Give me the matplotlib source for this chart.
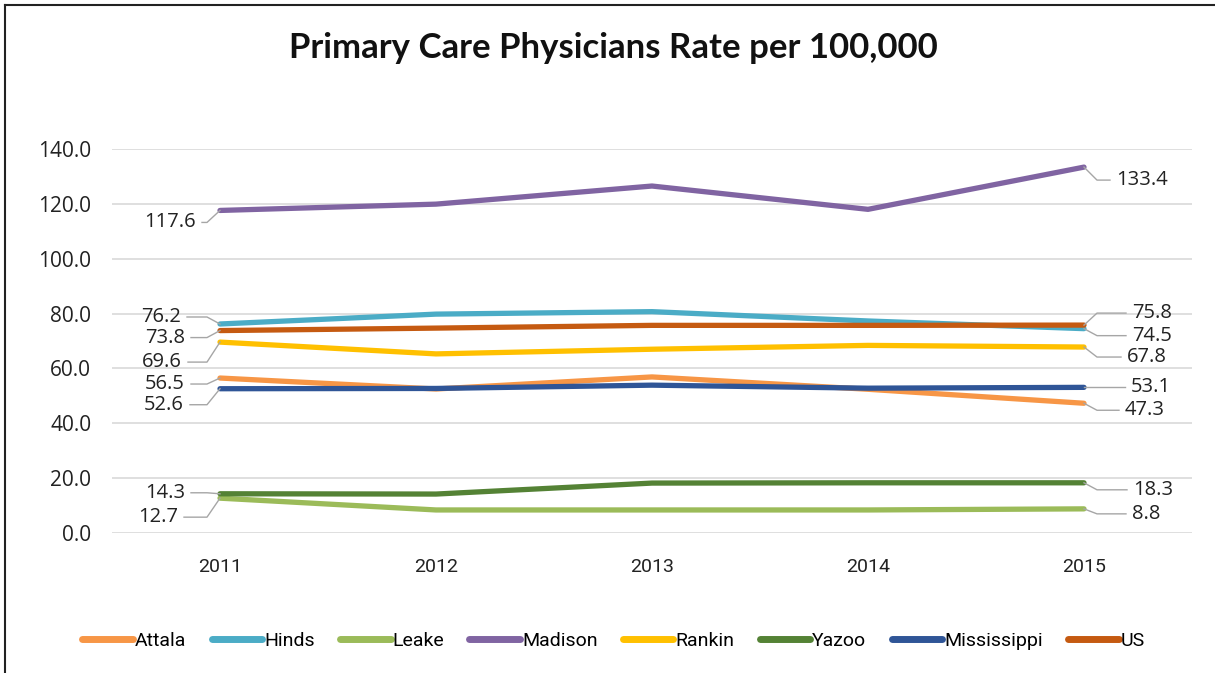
import matplotlib.pyplot as plt
from matplotlib.lines import Line2D
from matplotlib.transforms import IdentityTransform

# ---- Data ---------------------------------------------------------------
YEARS = ["2011", "2012", "2013", "2014", "2015"]
SERIES = ["Attala", "Hinds", "Leake", "Madison", "Rankin", "Yazoo", "Mississippi", "US"]

attala = [56.5, 52.5, 56.9, 52.4, 47.3]
hinds = [76.2, 79.8, 80.7, 77.3, 74.5]
leake = [12.7, 8.4, 8.4, 8.4, 8.8]
madison = [117.6, 119.9, 126.5, 118.0, 133.4]
rankin = [69.6, 65.3, 67.0, 68.4, 67.8]
yazoo = [14.3, 14.2, 18.2, 18.3, 18.3]
mississippi = [52.6, 52.7, 53.9, 52.8, 53.1]
us = [73.8, 74.7, 75.7, 75.7, 75.8]

VALUES = [attala, hinds, leake, madison, rankin, yazoo, mississippi, us]

COLORS = ["#F79646", "#4BACC6", "#9BBB59", "#8064A2",
          "#FFC000", "#548235", "#2F5597", "#C55A11"]

# label offsets (pixels, y up) for first / last point of each series
LEFT_OFF = {
    "Attala": (-35, -6), "Hinds": (-39, 7), "Leake": (-42, -19),
    "Madison": (-24, -12), "Rankin": (-38, -20), "Yazoo": (-35, 1),
    "Mississippi": (-36, -16), "US": (-35, -7),
}
RIGHT_OFF = {
    "Attala": (41, -7), "Hinds": (48, -7), "Leake": (48, -5),
    "Madison": (32, -13), "Rankin": (43, -10), "Yazoo": (49, -7),
    "Mississippi": (47, 0), "US": (48, 12),
}

NUM_FONT = ["Open Sans", "DejaVu Sans"]
NARROW_FONT = ["Roboto", "DejaVu Sans"]

# ---- Figure -------------------------------------------------------------
fig = plt.figure(figsize=(12.15, 6.73), dpi=100)
ax = fig.add_axes([112 / 1215, 140 / 673, 1080 / 1215, 384 / 673])

x = list(range(len(YEARS)))
for name, ys, c in zip(SERIES, VALUES, COLORS):
    ax.plot(x, ys, color=c, linewidth=3.8, solid_capstyle="round",
            solid_joinstyle="round", label=name, zorder=3)

ax.set_xlim(-0.5, len(YEARS) - 0.5)
ax.set_ylim(0, 140)


def leader(xi, yi, off, ha):
    dx, dy = off
    px, py = ax.transData.transform((xi, yi))
    sgn = -1 if dx < 0 else 1
    corner = px + sgn * 13
    edge = px + dx - sgn * 6
    fig.add_artist(Line2D([px, corner, edge], [py, py + dy, py + dy],
                          transform=IdentityTransform(), color="#A6A6A6",
                          linewidth=1.0, zorder=5))
    ax.annotate(f"{yi:.1f}", xy=(xi, yi), xytext=(dx, dy),
                textcoords="offset pixels", ha=ha, va="center",
                fontsize=14.5, family=NUM_FONT, color="#222222", zorder=5)


for name, ys in zip(SERIES, VALUES):
    leader(0, ys[0], LEFT_OFF[name], "right")
    leader(len(YEARS) - 1, ys[-1], RIGHT_OFF[name], "left")

ax.set_yticks(range(0, 141, 20))
ax.set_yticklabels([f"{v:.1f}" for v in range(0, 141, 20)],
                   family=NUM_FONT, fontsize=15, color="#222222")
ax.set_xticks(x)
ax.set_xticklabels(YEARS, family=NARROW_FONT, fontsize=14, color="#222222")
ax.tick_params(axis="y", length=0, pad=15)
ax.tick_params(axis="x", length=0, pad=18)
ax.grid(axis="y", color="#D9D9D9", linewidth=1.2, zorder=0)
ax.set_axisbelow(True)
for s in ax.spines.values():
    s.set_visible(False)

fig.text(0.505, 0.929, "Primary Care Physicians Rate per 100,000",
         ha="center", va="center", fontsize=25, fontweight="bold",
         family=["Lato", "DejaVu Sans"], color="#111111")

handles = [Line2D([], [], color=c, linewidth=5, solid_capstyle="round")
           for c in COLORS]
fig.legend(handles, SERIES, loc="center", bbox_to_anchor=(0.505, 0.048),
           ncol=len(SERIES), frameon=False, handlelength=2.6,
           handletextpad=0.1, columnspacing=1.3,
           prop={"family": NARROW_FONT, "size": 14})

# outer border (left and top edges)
fig.add_artist(Line2D([5 / 1215, 5 / 1215], [0, 1 - 5 / 673],
                      transform=fig.transFigure, color="#222222", linewidth=1.5))
fig.add_artist(Line2D([5 / 1215, 1], [1 - 5 / 673, 1 - 5 / 673],
                      transform=fig.transFigure, color="#222222", linewidth=1.5))

fig.savefig("out.png", dpi=100, facecolor="white")
